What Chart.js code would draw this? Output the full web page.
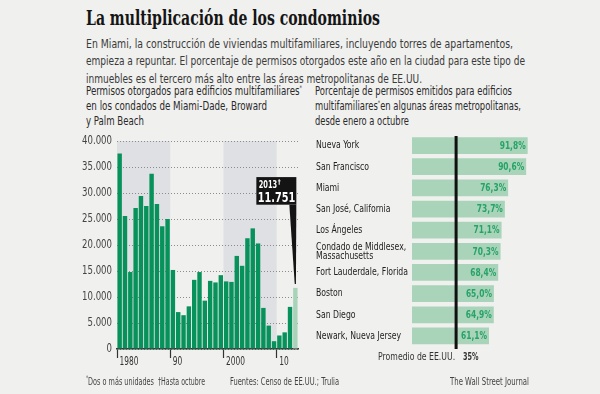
<!DOCTYPE html>
<html><head><meta charset="utf-8">
<script src="https://cdn.jsdelivr.net/npm/chart.js@4.4.0/dist/chart.umd.min.js"></script>
<style>
html,body{margin:0;padding:0;background:#f0f0ee;width:600px;height:394px;overflow:hidden;}
body{position:relative;font-family:"DejaVu Sans Condensed","Liberation Sans",Roboto,sans-serif;color:#333;}
.t{position:absolute;white-space:nowrap;transform-origin:0 50%;line-height:1;}
.title{font-family:"DejaVu Serif Condensed","DejaVu Serif",serif;font-weight:bold;font-size:20px;color:#151515;}
.sub{font-size:12px;color:#3a3a3a;}
.hd{font-size:11.5px;color:#2a2a2a;}
.ft{font-size:10px;color:#444;}
sup{font-size:6.5px;vertical-align:5px;line-height:0;}
#c1{position:absolute;left:0;top:125px;}
#c2{position:absolute;left:300px;top:125px;}
</style></head>
<body>
<div class="t title" style="left:86px;top:8px" data-w="294">La multiplicación de los condominios</div>
<div class="t sub" style="left:86px;top:37.5px" data-w="427">En Miami, la construcción de viviendas multifamiliares, incluyendo torres de apartamentos,</div>
<div class="t sub" style="left:86px;top:55px" data-w="439">empieza a repuntar. El porcentaje de permisos otorgados este año en la ciudad para este tipo de</div>
<div class="t sub" style="left:86px;top:72.5px" data-w="336">inmuebles es el tercero más alto entre las áreas metropolitanas de EE.UU.</div>

<div class="t hd" style="left:86px;top:86px" data-w="216">Permisos otorgados para edificios multifamiliares<sup>*</sup></div>
<div class="t hd" style="left:86px;top:101px" data-w="181">en los condados de Miami-Dade, Broward</div>
<div class="t hd" style="left:86px;top:116px" data-w="58">y Palm Beach</div>

<div class="t hd" style="left:315px;top:86px" data-w="197">Porcentaje de permisos emitidos para edificios</div>
<div class="t hd" style="left:315px;top:101px" data-w="206">multifamiliares<sup>*</sup>en algunas áreas metropolitanas,</div>
<div class="t hd" style="left:315px;top:116px" data-w="94">desde enero a octubre</div>

<canvas id="c1" width="310" height="250"></canvas>
<canvas id="c2" width="300" height="240"></canvas>

<div class="t ft" style="left:86px;top:377px" data-w="68"><sup>*</sup>Dos o más unidades</div>
<div class="t ft" style="left:158px;top:377px" data-w="47">†Hasta octubre</div>
<div class="t ft" style="left:230px;top:377px" data-w="109">Fuentes: Censo de EE.UU.; Trulia</div>
<div class="t ft" style="left:450px;top:377px" data-w="79">The Wall Street Journal</div>

<script>
// ---- Data ----
const years = [1980,1981,1982,1983,1984,1985,1986,1987,1988,1989,
               1990,1991,1992,1993,1994,1995,1996,1997,1998,1999,
               2000,2001,2002,2003,2004,2005,2006,2007,2008,2009,
               2010,2011,2012,2013];
const permits = [37600,25600,14800,27100,29400,27500,33700,27900,23600,25000,
                 15200,7100,6500,8200,13300,14800,9300,13100,12800,14200,
                 13000,12900,17900,16000,21300,23200,20300,7900,4500,1500,
                 2600,3200,8100,11751];
const yTicks = [0,5000,10000,15000,20000,25000,30000,35000,40000];
const xTickLabels = {1980:'1980',1990:'90',2000:'2000',2010:'10'};
const shadedDecades = [[1980,1990],[2000,2010]];
const metros = ['Nueva York','San Francisco','Miami','San José, California','Los Ángeles',
                ['Condado de Middlesex,','Massachusetts'],'Fort Lauderdale, Florida','Boston','San Diego','Newark, Nueva Jersey'];
const metroPct = [91.8,90.6,76.3,73.7,71.1,70.3,68.4,65.0,64.9,61.1];
const usAverage = 35;

const FONT = '"DejaVu Sans Condensed","Liberation Sans",Roboto,sans-serif';
Chart.defaults.font.family = FONT;
Chart.defaults.animation = false;

const fmtThousands = v => String(v).replace(/\B(?=(\d{3})+(?!\d))/g,'.');

// squeezed canvas text helper (emulates the narrow newspaper face)
function sqText(ctx, text, x, y, font, color, sx, align='left', base='middle'){
  ctx.save();
  ctx.font = font; ctx.fillStyle = color; ctx.textAlign = align; ctx.textBaseline = base;
  ctx.translate(x, y); ctx.scale(sx, 1); ctx.fillText(text, 0, 0);
  ctx.restore();
}
function fitScale(ctx, font, text, target){
  ctx.save(); ctx.font = font; const w = ctx.measureText(text).width; ctx.restore();
  return target / w;
}

// ---- Left chart ----
const shadePlugin = {
  id:'shade',
  beforeDraw(chart){
    const {ctx, chartArea, scales:{x}} = chart;
    ctx.save();
    ctx.fillStyle = '#dfe0e3';
    shadedDecades.forEach(([a,b])=>{
      const x0 = x.getPixelForValue(a), x1 = x.getPixelForValue(b);
      ctx.fillRect(x0, chartArea.top, x1-x0, chartArea.bottom-chartArea.top);
    });
    ctx.restore();
  }
};
const axisLabelPlugin = {
  id:'axisLabels',
  afterDraw(chart){
    const {ctx, chartArea, scales:{x,y}} = chart;
    const fy = '11.5px ' + FONT;
    const sy = fitScale(ctx, fy, '40.000', 30);
    yTicks.forEach(v=>{
      sqText(ctx, fmtThousands(v), x.left - 5, y.getPixelForValue(v), fy, '#444', sy, 'right');
    });
    const fx = '11.5px ' + FONT;
    const sx = fitScale(ctx, fx, '1980', 19);
    Object.keys(xTickLabels).forEach(k=>{
      sqText(ctx, xTickLabels[k], x.getPixelForValue(+k) + 2.5, chartArea.bottom + 13, fx, '#333', sx, 'left');
    });
  }
};
const calloutPlugin = {
  id:'callout',
  afterDatasetsDraw(chart){
    const {ctx} = chart;
    const meta = chart.getDatasetMeta(0);
    const el = meta.data[meta.data.length-1];
    const bx = el.x, by = el.y;
    const right = bx + 1, w = 40, top = by - 110.8, h = 27.6, left = right - w, bottom = top + h;
    ctx.save();
    ctx.fillStyle = '#141414';
    ctx.fillRect(left, top, w, h);
    ctx.beginPath();
    ctx.moveTo(right-7, bottom);
    ctx.lineTo(right, bottom);
    ctx.lineTo(bx+0.6, by-4);
    ctx.lineTo(bx-0.6, by-4);
    ctx.closePath();
    ctx.fill();
    ctx.restore();
    const yr = String(years[years.length-1]);
    const f1 = 'bold 11px ' + FONT;
    const s1 = fitScale(ctx, f1, yr, 18.5);
    sqText(ctx, yr, left+2.3, top+10.8, f1, '#fff', s1, 'left', 'alphabetic');
    sqText(ctx, '†', left+21.5, top+7, 'bold 6.5px ' + FONT, '#fff', 1, 'left', 'alphabetic');
    const val = fmtThousands(permits[permits.length-1]);
    const f2 = 'bold 14.5px ' + FONT;
    const s2 = fitScale(ctx, f2, val, 37.5);
    sqText(ctx, val, left+1.5, top+24.8, f2, '#fff', s2, 'left', 'alphabetic');
  }
};

new Chart(document.getElementById('c1'), {
  type:'bar',
  data:{datasets:[{
    data: permits.map((v,i)=>({x:years[i]+0.5, y:v})),
    backgroundColor: permits.map((v,i)=> i===permits.length-1 ? '#a9d3b8' : '#06925a'),
    borderWidth:0,
    barPercentage:0.83,
    categoryPercentage:1
  }]},
  options:{
    responsive:false,
    layout:{padding:{left:0,right:12,top:16,bottom:0}},
    plugins:{legend:{display:false},tooltip:{enabled:false}},
    scales:{
      x:{type:'linear',min:1980,max:2014,offset:false,
        ticks:{display:false,stepSize:10,includeBounds:false,autoSkip:false,maxRotation:0},
        grid:{offset:false,drawOnChartArea:false,drawTicks:true,tickLength:9,tickColor:'#333',tickWidth:1.2},
        border:{display:true,color:'#333',width:1.5},
        afterFit:s=>{s.height=26;}
      },
      y:{min:0,max:40000,
        afterBuildTicks:s=>{s.ticks = yTicks.map(v=>({value:v}));},
        ticks:{display:false},
        grid:{color:'#8c8c8c',lineWidth:1,drawTicks:false},
        border:{display:false,dash:[1,2]},
        afterFit:s=>{s.width=117;}
      }
    }
  },
  plugins:[shadePlugin, calloutPlugin, axisLabelPlugin]
});

// ---- Right chart ----
const pctPlugin = {
  id:'pct',
  afterDatasetsDraw(chart){
    const {ctx, chartArea, scales:{x,y}} = chart;
    const meta = chart.getDatasetMeta(0);
    // category labels
    const fc = '11px ' + FONT;
    const sc = fitScale(ctx, fc, 'Fort Lauderdale, Florida', 92);
    metros.forEach((lab,i)=>{
      const cy = y.getPixelForValue(i);
      if (Array.isArray(lab)) {
        sqText(ctx, lab[0], 16, cy-4.6, fc, '#222', sc);
        sqText(ctx, lab[1], 16, cy+4.6, fc, '#222', sc);
      } else sqText(ctx, lab, 16, cy, fc, '#222', sc);
    });
    // value labels
    const fv = 'bold 10.5px ' + FONT;
    const sv = fitScale(ctx, fv, '91,8%', 26);
    meta.data.forEach((el,i)=>{
      sqText(ctx, metroPct[i].toFixed(1).replace('.',',')+'%', el.x-2, el.y+0.5, fv, '#27a368', sv, 'right');
    });
    // average line
    const ax = x.getPixelForValue(usAverage);
    ctx.save();
    ctx.fillStyle = '#111';
    ctx.fillRect(ax-1.5, chartArea.top+1, 3, chartArea.bottom-chartArea.top+1.5);
    ctx.restore();
    const fa = '11px ' + FONT;
    const sa = fitScale(ctx, fa, 'Promedio de EE.UU.', 77);
    sqText(ctx, 'Promedio de EE.UU.', ax-1, chartArea.bottom+10.5, fa, '#333', sa, 'right');
    const fb = 'bold 11px ' + FONT;
    const sb = fitScale(ctx, fb, usAverage+'%', 15.5);
    sqText(ctx, usAverage+'%', ax+7, chartArea.bottom+10.5, fb, '#333', sb, 'left');
  }
};

new Chart(document.getElementById('c2'), {
  type:'bar',
  data:{labels:metros, datasets:[{
    data:metroPct, backgroundColor:'#a9d4b9', borderWidth:0,
    barPercentage:0.79, categoryPercentage:1
  }]},
  options:{
    responsive:false,
    indexAxis:'y',
    layout:{padding:{left:16,right:62,top:10,bottom:18.5}},
    plugins:{legend:{display:false},tooltip:{enabled:false}},
    scales:{
      x:{display:false,min:0,max:100},
      y:{ticks:{display:false},
        grid:{display:false},border:{display:false},
        afterFit:s=>{s.width=96;}
      }
    }
  },
  plugins:[pctPlugin]
});

// fit HTML text lines to measured widths
function fit(){
  document.querySelectorAll('[data-w]').forEach(el=>{
    el.style.transform='none';
    const w = el.getBoundingClientRect().width;
    const target = parseFloat(el.dataset.w);
    if (w>0) el.style.transform = 'scaleX('+(target/w)+')';
  });
}
fit();
if (document.fonts && document.fonts.ready) document.fonts.ready.then(fit);
</script>
</body></html>
